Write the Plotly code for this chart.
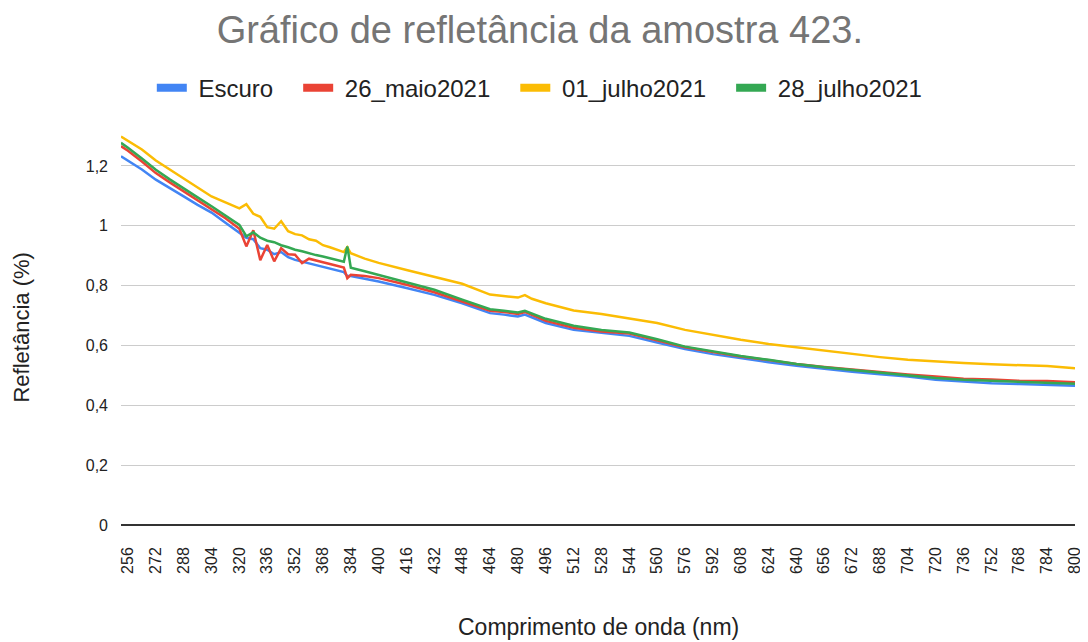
import plotly.graph_objects as go

wavelength = [252, 256, 264, 272, 280, 288, 296, 304, 312, 320, 324, 328, 332, 336, 340, 344, 348,
              352, 356, 360, 364, 368, 372, 376, 380, 382, 384, 392, 400, 416, 432, 448, 464,
              472, 480, 484, 488, 496, 512, 528, 544, 560, 576, 592, 608, 624, 640, 656, 672,
              688, 704, 720, 736, 752, 768, 784, 800]

escuro = [1.232, 1.217, 1.188, 1.154, 1.125, 1.098, 1.070, 1.044, 1.010, 0.975, 0.960, 0.955, 0.925,
          0.920, 0.905, 0.912, 0.895, 0.886, 0.880, 0.876, 0.870, 0.864, 0.858, 0.850, 0.845,
          0.832, 0.832, 0.823, 0.814, 0.792, 0.769, 0.741, 0.708, 0.703, 0.697, 0.703, 0.693,
          0.675, 0.652, 0.641, 0.632, 0.610, 0.588, 0.571, 0.557, 0.544, 0.532, 0.521, 0.512,
          0.504, 0.496, 0.485, 0.479, 0.474, 0.471, 0.467, 0.465]

maio_26 = [1.266, 1.251, 1.215, 1.176, 1.145, 1.115, 1.085, 1.054, 1.025, 0.990, 0.931, 0.985, 0.885,
           0.936, 0.881, 0.925, 0.905, 0.903, 0.875, 0.890, 0.885, 0.878, 0.872, 0.865, 0.860,
           0.825, 0.836, 0.832, 0.825, 0.803, 0.778, 0.747, 0.716, 0.712, 0.705, 0.712, 0.702,
           0.682, 0.659, 0.647, 0.640, 0.618, 0.594, 0.578, 0.563, 0.551, 0.538, 0.528, 0.519,
           0.511, 0.503, 0.496, 0.489, 0.486, 0.482, 0.481, 0.477]

julho_01 = [1.298, 1.284, 1.255, 1.218, 1.188, 1.160, 1.128, 1.098, 1.078, 1.058, 1.072, 1.040, 1.030,
            0.995, 0.990, 1.015, 0.982, 0.972, 0.968, 0.955, 0.950, 0.935, 0.928, 0.920, 0.912,
            0.928, 0.908, 0.890, 0.876, 0.852, 0.828, 0.806, 0.770, 0.766, 0.760, 0.768, 0.756,
            0.741, 0.717, 0.705, 0.691, 0.675, 0.652, 0.635, 0.619, 0.605, 0.594, 0.582, 0.571,
            0.561, 0.552, 0.546, 0.541, 0.537, 0.533, 0.531, 0.524]

julho_28 = [1.277, 1.261, 1.225, 1.187, 1.155, 1.126, 1.095, 1.065, 1.035, 1.003, 0.965, 0.978, 0.960,
            0.950, 0.945, 0.935, 0.928, 0.920, 0.915, 0.908, 0.902, 0.897, 0.892, 0.885, 0.880,
            0.931, 0.860, 0.848, 0.836, 0.810, 0.786, 0.753, 0.721, 0.716, 0.710, 0.716, 0.707,
            0.689, 0.666, 0.652, 0.643, 0.621, 0.596, 0.580, 0.565, 0.552, 0.538, 0.527, 0.518,
            0.509, 0.501, 0.491, 0.485, 0.482, 0.477, 0.476, 0.472]

series_names = ["Escuro", "26_maio2021", "01_julho2021", "28_julho2021"]
series_values = [escuro, maio_26, julho_01, julho_28]
colors = ["#4285F4", "#EA4335", "#FBBC04", "#34A853"]

x_ticks = list(range(256, 801, 16))
y_ticks = [0, 0.2, 0.4, 0.6, 0.8, 1.0, 1.2]

font_family = "Arial, 'Liberation Sans', sans-serif"
text_color = "#222222"
NB = "\u00a0"

fig = go.Figure()
for name, vals, col in zip(series_names, series_values, colors):
    fig.add_trace(go.Scatter(x=wavelength, y=vals, mode="lines", name=name,
                             legendgroup=name, showlegend=False,
                             line=dict(color=col, width=2.5)))
# legend-only entries with thick swatches (labels padded for Sheets-like spacing)
for i, (name, col) in enumerate(zip(series_names, colors)):
    label = NB + name + (NB * 3 if i < len(series_names) - 1 else "")
    fig.add_trace(go.Scatter(x=[None], y=[None], mode="lines", name=label,
                             legendgroup=name, showlegend=True,
                             line=dict(color=col, width=8)))

fig.update_layout(
    width=1088, height=642,
    separators=", ",
    paper_bgcolor="white", plot_bgcolor="white",
    margin=dict(l=113, r=21, t=122, b=125, autoexpand=False),
    font=dict(family=font_family, color=text_color, size=16),
    title=dict(text="Gráfico de refletância da amostra 423.", x=0.439, xanchor="center",
               xref="paper", y=0.966, yanchor="middle",
               font=dict(family=font_family, size=38, color="#757575")),
    legend=dict(orientation="h", x=0.439, xanchor="center", y=1.106, yanchor="middle",
                font=dict(size=24, color=text_color), itemwidth=30,
                traceorder="normal"),
    xaxis=dict(range=[252, 800], tickvals=x_ticks, ticktext=[str(t) for t in x_ticks],
               tickangle=-90, showgrid=False, zeroline=False, showline=False,
               ticks="", ticklabelstandoff=18, tickfont=dict(size=16, color=text_color),
               automargin=False),
    yaxis=dict(range=[0, 1.32], tickvals=y_ticks, showgrid=True, gridcolor="#cccccc",
               gridwidth=1, zeroline=True, zerolinecolor="#333333", zerolinewidth=1.5,
               ticks="", ticklabelstandoff=12, tickfont=dict(size=16, color=text_color),
               automargin=False),
    annotations=[
        dict(text="Comprimento de onda (nm)", xref="paper", yref="paper",
             x=0.5, y=-0.258, xanchor="center", yanchor="middle", showarrow=False,
             font=dict(size=23, color=text_color)),
        dict(text="Refletância (%)", xref="paper", yref="paper",
             x=-0.1048, y=0.5, xanchor="center", yanchor="middle", textangle=-90,
             showarrow=False, font=dict(size=22, color=text_color)),
    ],
)

fig.write_html("out.html")
